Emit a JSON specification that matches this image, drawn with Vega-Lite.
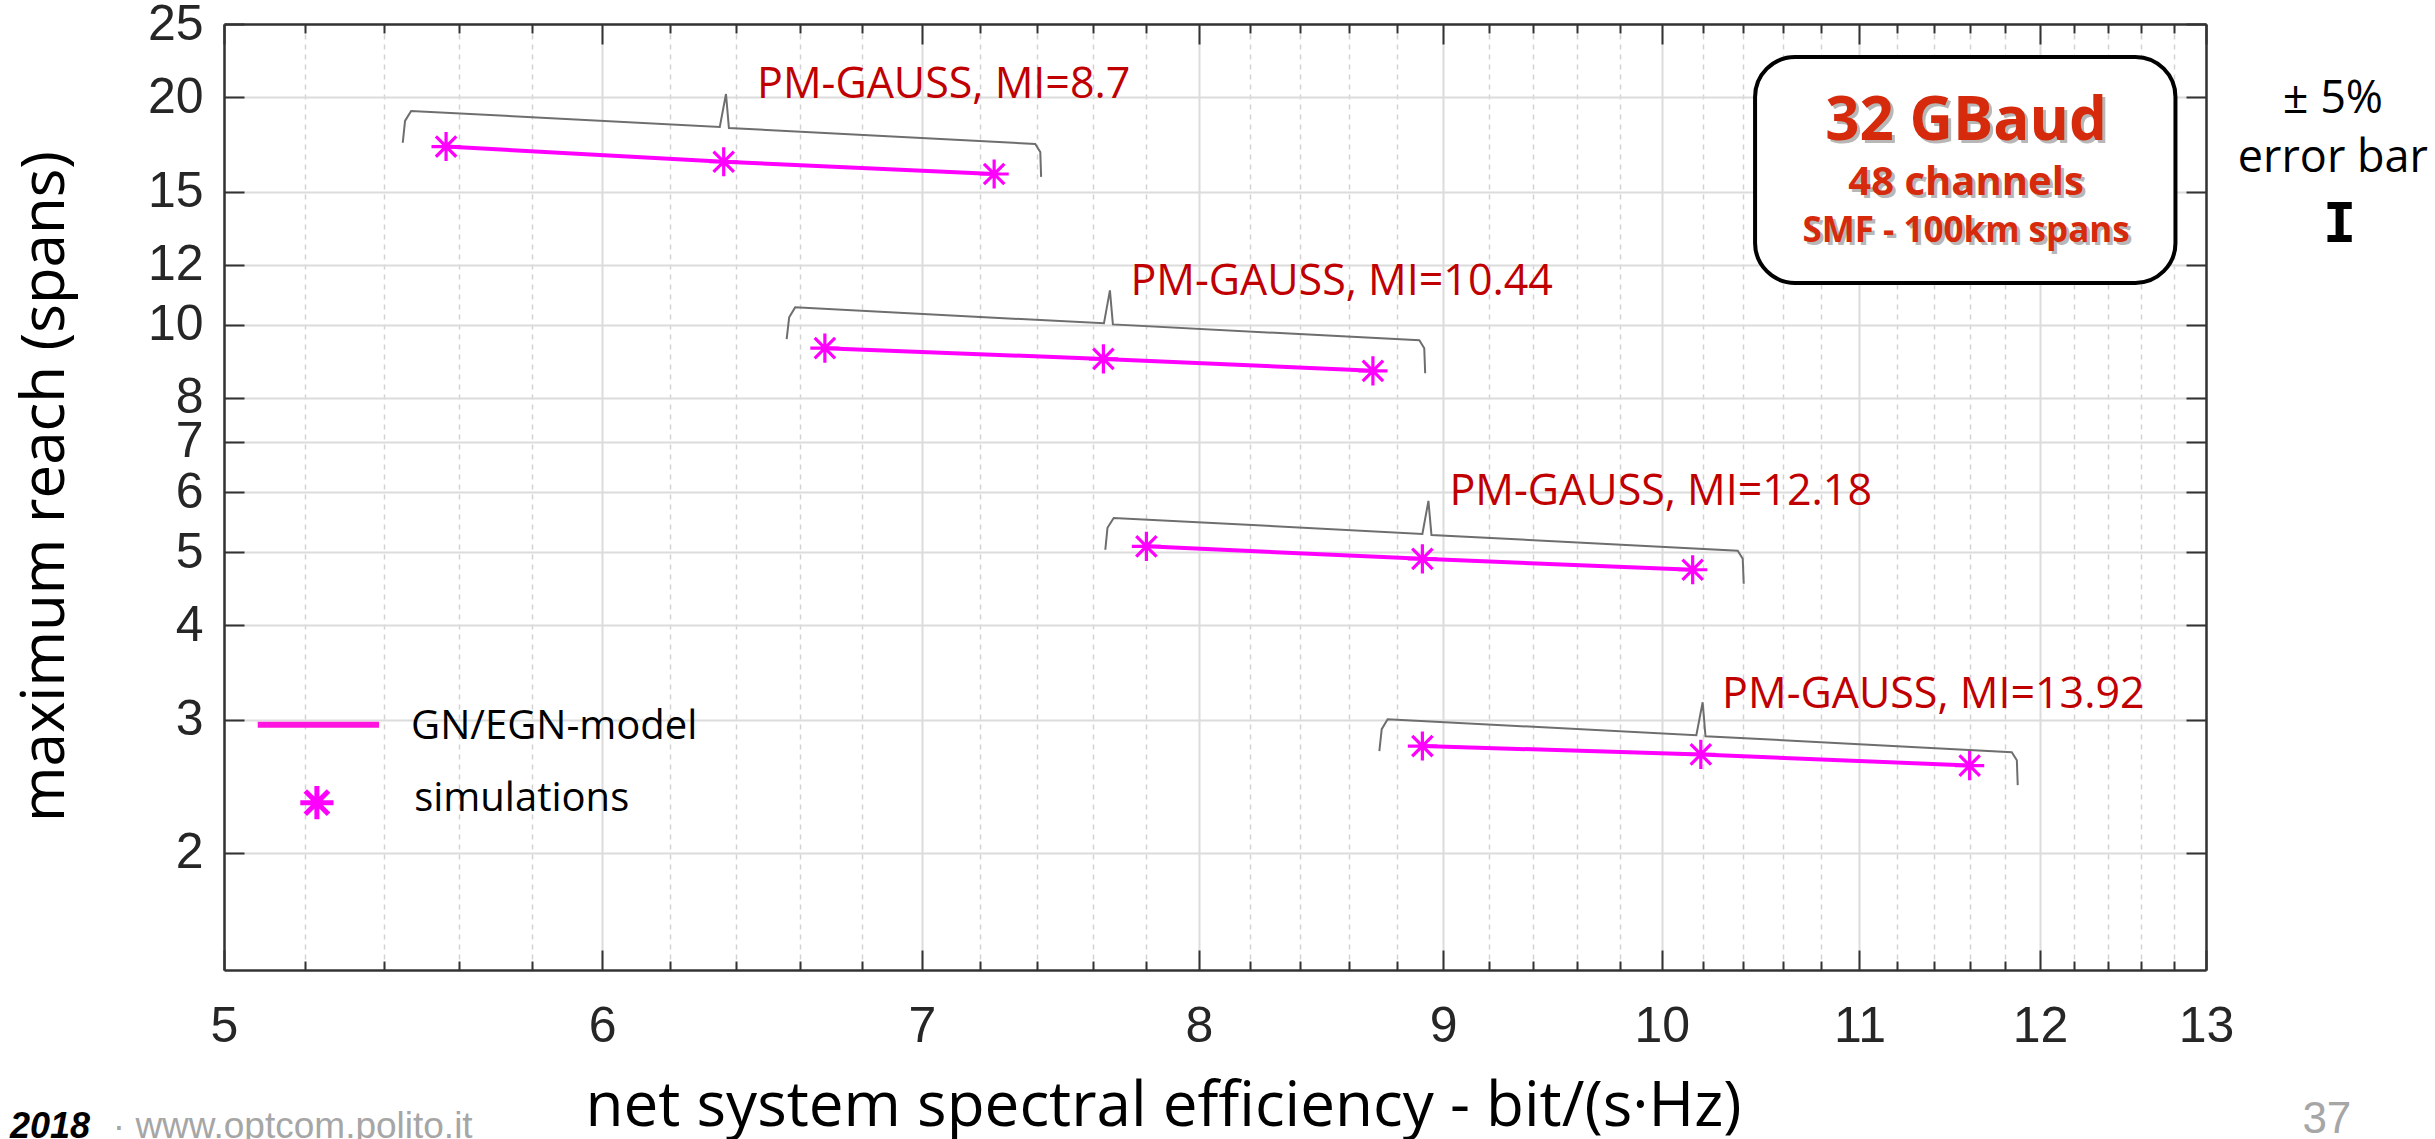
{
  "$schema": "https://vega.github.io/schema/vega-lite/v6.json",
  "width": 1982,
  "height": 946,
  "autosize": {"type": "none"},
  "padding": {"left": 224, "top": 24, "right": 229, "bottom": 169},
  "background": "white",
  "config": {"view": {"stroke": null}},
  "datasets": {
    "pts": [
      {"g": "8.7", "x": 5.565, "y": 17.21}, {"g": "8.7", "x": 6.362, "y": 16.43}, {"g": "8.7", "x": 7.248, "y": 15.83},
      {"g": "10.44", "x": 6.68, "y": 9.31}, {"g": "10.44", "x": 7.64, "y": 9.01}, {"g": "10.44", "x": 8.7, "y": 8.69},
      {"g": "12.18", "x": 7.8, "y": 5.09}, {"g": "12.18", "x": 8.91, "y": 4.9}, {"g": "12.18", "x": 10.15, "y": 4.74},
      {"g": "13.92", "x": 8.91, "y": 2.77}, {"g": "13.92", "x": 10.19, "y": 2.7}, {"g": "13.92", "x": 11.6, "y": 2.61}
    ],
    "brace": [
      {"g": "8.7", "i": 1, "x": 5.45, "y": 17.41}, {"g": "8.7", "i": 2, "x": 5.456, "y": 18.61}, {"g": "8.7", "i": 3, "x": 5.472, "y": 19.18},
      {"g": "8.7", "i": 4, "x": 6.35, "y": 18.27}, {"g": "8.7", "i": 5, "x": 6.369, "y": 20.2}, {"g": "8.7", "i": 6, "x": 6.378, "y": 18.21},
      {"g": "8.7", "i": 7, "x": 7.393, "y": 17.35}, {"g": "8.7", "i": 8, "x": 7.411, "y": 16.93}, {"g": "8.7", "i": 9, "x": 7.414, "y": 15.69},
      {"g": "10.44", "i": 1, "x": 6.558, "y": 9.57}, {"g": "10.44", "i": 2, "x": 6.566, "y": 10.23}, {"g": "10.44", "i": 3, "x": 6.585, "y": 10.543},
      {"g": "10.44", "i": 4, "x": 7.642, "y": 10.043}, {"g": "10.44", "i": 5, "x": 7.664, "y": 11.104}, {"g": "10.44", "i": 6, "x": 7.675, "y": 10.01},
      {"g": "10.44", "i": 7, "x": 8.897, "y": 9.537}, {"g": "10.44", "i": 8, "x": 8.918, "y": 9.306}, {"g": "10.44", "i": 9, "x": 8.922, "y": 8.625},
      {"g": "12.18", "i": 1, "x": 7.647, "y": 5.038}, {"g": "12.18", "i": 2, "x": 7.655, "y": 5.386}, {"g": "12.18", "i": 3, "x": 7.678, "y": 5.551},
      {"g": "12.18", "i": 4, "x": 8.91, "y": 5.287}, {"g": "12.18", "i": 5, "x": 8.936, "y": 5.846}, {"g": "12.18", "i": 6, "x": 8.949, "y": 5.27},
      {"g": "12.18", "i": 7, "x": 10.373, "y": 5.021}, {"g": "12.18", "i": 8, "x": 10.398, "y": 4.9}, {"g": "12.18", "i": 9, "x": 10.403, "y": 4.541},
      {"g": "13.92", "i": 1, "x": 8.727, "y": 2.728}, {"g": "13.92", "i": 2, "x": 8.737, "y": 2.916}, {"g": "13.92", "i": 3, "x": 8.762, "y": 3.006},
      {"g": "13.92", "i": 4, "x": 10.168, "y": 2.863}, {"g": "13.92", "i": 5, "x": 10.199, "y": 3.165}, {"g": "13.92", "i": 6, "x": 10.213, "y": 2.854},
      {"g": "13.92", "i": 7, "x": 11.838, "y": 2.719}, {"g": "13.92", "i": 8, "x": 11.867, "y": 2.653}, {"g": "13.92", "i": 9, "x": 11.872, "y": 2.459}
    ],
    "labels": [
      {"t": "PM-GAUSS, MI=8.7", "x": 6.465, "y": 19.96},
      {"t": "PM-GAUSS, MI=10.44", "x": 7.74, "y": 10.95},
      {"t": "PM-GAUSS, MI=12.18", "x": 9.027, "y": 5.78},
      {"t": "PM-GAUSS, MI=13.92", "x": 10.295, "y": 3.11}
    ],
    "box": [{"x1": 10.46, "x2": 12.81, "y1": 22.61, "y2": 11.36}],
    "boxt": [
      {"k": "a", "t": "32 GBaud", "x": 11.58, "y": 17.56},
      {"k": "b", "t": "48 channels", "x": 11.58, "y": 14.85},
      {"k": "c", "t": "SMF - 100km spans", "x": 11.58, "y": 12.87}
    ],
    "legl": [{"x": 5.082, "y": 2.956}, {"x": 5.388, "y": 2.956}],
    "legp": [{"x": 5.229, "y": 2.331}],
    "legt": [{"t": "GN/EGN-model", "x": 5.472, "y": 2.832}, {"t": "simulations", "x": 5.48, "y": 2.275}],
    "misc": [
      {"k": "pm", "t": "± 5%", "x": 13.82, "y": 19.07},
      {"k": "eb", "t": "error bar", "x": 13.82, "y": 15.93},
      {"k": "I", "t": "I", "x": 13.865, "y": 12.87},
      {"k": "yr", "t": "2018", "x": 4.51, "y": 0.838},
      {"k": "web", "t": "· www.optcom.polito.it", "x": 4.739, "y": 0.838},
      {"k": "pg", "t": "37", "x": 13.78, "y": 0.853}
    ]
  },
  "resolve": {"axis": {"x": "independent", "y": "independent"}},
  "layer": [
    {
      "data": {"name": "brace"},
      "mark": {"type": "line", "color": "#6e6e6e", "strokeWidth": 2},
      "encoding": {
        "x": {"field": "x", "type": "quantitative", "scale": {"type": "log", "domain": [5, 13], "nice": false},
          "axis": {"orient": "bottom", "values": [5, 6, 7, 8, 9, 10, 11, 12, 13], "format": "d", "labelFlush": false, "labelOverlap": false,
            "labelFont": "Liberation Sans", "labelFontSize": 50, "labelColor": "#262626", "labelPadding": 51,
            "tickSize": -20, "tickColor": "#333333", "tickWidth": 2, "domain": true, "domainColor": "#333333", "domainWidth": 2.5,
            "grid": true, "gridColor": "#dcdcdc", "gridWidth": 2,
            "title": "net system spectral efficiency - bit/(s·Hz)", "titleFont": "Open Sans", "titleFontSize": 62, "titleFontWeight": "normal",
            "titleColor": "#000000", "titleAlign": "left", "titleBaseline": "alphabetic", "titleX": 361, "titleY": 155}},
        "y": {"field": "y", "type": "quantitative", "scale": {"type": "log", "domain": [1.4, 25], "nice": false},
          "axis": {"orient": "left", "values": [2, 3, 4, 5, 6, 7, 8, 10, 12, 15, 20, 25], "format": "d", "labelFlush": false, "labelOverlap": false,
            "labelFont": "Liberation Sans", "labelFontSize": 50, "labelColor": "#262626", "labelPadding": 41,
            "tickSize": -20, "tickColor": "#333333", "tickWidth": 2, "domain": true, "domainColor": "#333333", "domainWidth": 2.5,
            "grid": true, "gridColor": "#dcdcdc", "gridWidth": 2,
            "title": "maximum reach (spans)", "titleFont": "Open Sans", "titleFontSize": 60, "titleFontWeight": "normal",
            "titleColor": "#000000", "titleAngle": 270, "titleAlign": "center", "titleBaseline": "alphabetic", "titleX": -161, "titleY": 462}},
        "detail": {"field": "g"},
        "order": {"field": "i", "type": "quantitative"}
      }
    },
    {
      "data": {"name": "pts"},
      "mark": {"type": "line", "color": "#ff00ff", "strokeWidth": 4},
      "encoding": {
        "x": {"field": "x", "type": "quantitative", "scale": {"type": "log", "domain": [5, 13], "nice": false},
          "axis": {"orient": "top", "values": [5, 6, 7, 8, 9, 10, 11, 12, 13], "labels": false, "tickSize": -20, "tickColor": "#333333", "tickWidth": 2,
            "domain": true, "domainColor": "#333333", "domainWidth": 2.5, "grid": false, "title": null}},
        "y": {"field": "y", "type": "quantitative", "scale": {"type": "log", "domain": [1.4, 25], "nice": false},
          "axis": {"orient": "right", "values": [2, 3, 4, 5, 6, 7, 8, 10, 12, 15, 20, 25], "labels": false, "tickSize": -20, "tickColor": "#333333", "tickWidth": 2,
            "domain": true, "domainColor": "#333333", "domainWidth": 2.5, "grid": false, "title": null}},
        "detail": {"field": "g"}
      }
    },
    {
      "data": {"name": "pts"},
      "mark": {"type": "point", "shape": "M0,-1L0,1M-1,0L1,0M-0.7,-0.7L0.7,0.7M-0.7,0.7L0.7,-0.7", "size": 850, "filled": false, "stroke": "#ff00ff", "strokeWidth": 3.2, "opacity": 1},
      "encoding": {
        "x": {"field": "x", "type": "quantitative", "scale": {"type": "log", "domain": [5, 13], "nice": false},
          "axis": {"orient": "bottom", "values": [5.2, 5.4, 5.6, 5.8, 6.2, 6.4, 6.6, 6.8, 7.2, 7.4, 7.6, 7.8, 8.2, 8.4, 8.6, 8.8, 9.2, 9.4, 9.6, 9.8, 10.2, 10.4, 10.6, 10.8, 11.2, 11.4, 11.6, 11.8, 12.2, 12.4, 12.6, 12.8],
            "labels": false, "tickSize": -9, "tickColor": "#333333", "tickWidth": 2, "domain": false,
            "grid": true, "gridColor": "#d2d2d2", "gridWidth": 1.5, "gridDash": [5, 5], "title": null}},
        "y": {"field": "y", "type": "quantitative", "scale": {"type": "log", "domain": [1.4, 25], "nice": false}, "axis": null}
      }
    },
    {
      "data": {"name": "labels"},
      "mark": {"type": "text", "align": "left", "baseline": "alphabetic", "font": "Open Sans", "fontSize": 43, "color": "#c00000"},
      "encoding": {
        "x": {"field": "x", "type": "quantitative", "scale": {"type": "log", "domain": [5, 13], "nice": false},
          "axis": {"orient": "top", "values": [5.2, 5.4, 5.6, 5.8, 6.2, 6.4, 6.6, 6.8, 7.2, 7.4, 7.6, 7.8, 8.2, 8.4, 8.6, 8.8, 9.2, 9.4, 9.6, 9.8, 10.2, 10.4, 10.6, 10.8, 11.2, 11.4, 11.6, 11.8, 12.2, 12.4, 12.6, 12.8],
            "labels": false, "tickSize": -9, "tickColor": "#333333", "tickWidth": 2, "domain": false, "grid": false, "title": null}},
        "y": {"field": "y", "type": "quantitative", "scale": {"type": "log", "domain": [1.4, 25], "nice": false}, "axis": null},
        "text": {"field": "t"}
      }
    },
    {
      "data": {"name": "box"},
      "mark": {"type": "rect", "fill": "white", "stroke": "black", "strokeWidth": 4, "cornerRadius": 40},
      "encoding": {
        "x": {"field": "x1", "type": "quantitative", "scale": {"type": "log", "domain": [5, 13], "nice": false}, "axis": null},
        "x2": {"field": "x2"},
        "y": {"field": "y1", "type": "quantitative", "scale": {"type": "log", "domain": [1.4, 25], "nice": false}, "axis": null},
        "y2": {"field": "y2"}
      }
    },
    {
      "data": {"name": "boxt"},
      "transform": [{"filter": "datum.k == 'a'"}],
      "layer": [
        {"mark": {"type": "text", "align": "center", "baseline": "alphabetic", "font": "Open Sans", "fontWeight": "bold", "fontSize": 60, "color": "#9a9a9a", "opacity": 0.7, "dx": 3, "dy": 3}},
        {"mark": {"type": "text", "align": "center", "baseline": "alphabetic", "font": "Open Sans", "fontWeight": "bold", "fontSize": 60, "color": "#d62a0c"}}
      ],
      "encoding": {
        "x": {"field": "x", "type": "quantitative", "scale": {"type": "log", "domain": [5, 13], "nice": false}, "axis": null},
        "y": {"field": "y", "type": "quantitative", "scale": {"type": "log", "domain": [1.4, 25], "nice": false}, "axis": null},
        "text": {"field": "t"}
      }
    },
    {
      "data": {"name": "boxt"},
      "transform": [{"filter": "datum.k == 'b'"}],
      "layer": [
        {"mark": {"type": "text", "align": "center", "baseline": "alphabetic", "font": "Open Sans", "fontWeight": "bold", "fontSize": 40, "color": "#9a9a9a", "opacity": 0.7, "dx": 3, "dy": 3}},
        {"mark": {"type": "text", "align": "center", "baseline": "alphabetic", "font": "Open Sans", "fontWeight": "bold", "fontSize": 40, "color": "#d62a0c"}}
      ],
      "encoding": {
        "x": {"field": "x", "type": "quantitative", "scale": {"type": "log", "domain": [5, 13], "nice": false}, "axis": null},
        "y": {"field": "y", "type": "quantitative", "scale": {"type": "log", "domain": [1.4, 25], "nice": false}, "axis": null},
        "text": {"field": "t"}
      }
    },
    {
      "data": {"name": "boxt"},
      "transform": [{"filter": "datum.k == 'c'"}],
      "layer": [
        {"mark": {"type": "text", "align": "center", "baseline": "alphabetic", "font": "Open Sans", "fontWeight": "bold", "fontSize": 35, "color": "#9a9a9a", "opacity": 0.7, "dx": 3, "dy": 3}},
        {"mark": {"type": "text", "align": "center", "baseline": "alphabetic", "font": "Open Sans", "fontWeight": "bold", "fontSize": 35, "color": "#d62a0c"}}
      ],
      "encoding": {
        "x": {"field": "x", "type": "quantitative", "scale": {"type": "log", "domain": [5, 13], "nice": false}, "axis": null},
        "y": {"field": "y", "type": "quantitative", "scale": {"type": "log", "domain": [1.4, 25], "nice": false}, "axis": null},
        "text": {"field": "t"}
      }
    },
    {
      "data": {"name": "legl"},
      "mark": {"type": "line", "color": "#ff14e0", "strokeWidth": 6},
      "encoding": {
        "x": {"field": "x", "type": "quantitative", "scale": {"type": "log", "domain": [5, 13], "nice": false}, "axis": null},
        "y": {"field": "y", "type": "quantitative", "scale": {"type": "log", "domain": [1.4, 25], "nice": false}, "axis": null}
      }
    },
    {
      "data": {"name": "legp"},
      "mark": {"type": "point", "shape": "M0,-1L0,1M-1,0L1,0M-0.7,-0.7L0.7,0.7M-0.7,0.7L0.7,-0.7", "size": 1100, "filled": false, "stroke": "#ff00ff", "strokeWidth": 5, "opacity": 1},
      "encoding": {
        "x": {"field": "x", "type": "quantitative", "scale": {"type": "log", "domain": [5, 13], "nice": false}, "axis": null},
        "y": {"field": "y", "type": "quantitative", "scale": {"type": "log", "domain": [1.4, 25], "nice": false}, "axis": null}
      }
    },
    {
      "data": {"name": "legt"},
      "mark": {"type": "text", "align": "left", "baseline": "alphabetic", "font": "Open Sans", "fontSize": 40, "color": "#000000"},
      "encoding": {
        "x": {"field": "x", "type": "quantitative", "scale": {"type": "log", "domain": [5, 13], "nice": false}, "axis": null},
        "y": {"field": "y", "type": "quantitative", "scale": {"type": "log", "domain": [1.4, 25], "nice": false}, "axis": null},
        "text": {"field": "t"}
      }
    },
    {
      "data": {"name": "misc"},
      "transform": [{"filter": "datum.k == 'pm' || datum.k == 'eb'"}],
      "mark": {"type": "text", "align": "center", "baseline": "alphabetic", "font": "Open Sans", "fontSize": 45, "color": "#000000"},
      "encoding": {
        "x": {"field": "x", "type": "quantitative", "scale": {"type": "log", "domain": [5, 13], "nice": false}, "axis": null},
        "y": {"field": "y", "type": "quantitative", "scale": {"type": "log", "domain": [1.4, 25], "nice": false}, "axis": null},
        "text": {"field": "t"}
      }
    },
    {
      "data": {"name": "misc"},
      "transform": [{"filter": "datum.k == 'I'"}],
      "mark": {"type": "text", "align": "center", "baseline": "alphabetic", "font": "DejaVu Sans Mono", "fontWeight": "bold", "fontSize": 56, "color": "#000000"},
      "encoding": {
        "x": {"field": "x", "type": "quantitative", "scale": {"type": "log", "domain": [5, 13], "nice": false}, "axis": null},
        "y": {"field": "y", "type": "quantitative", "scale": {"type": "log", "domain": [1.4, 25], "nice": false}, "axis": null},
        "text": {"field": "t"}
      }
    },
    {
      "data": {"name": "misc"},
      "transform": [{"filter": "datum.k == 'yr'"}],
      "mark": {"type": "text", "align": "left", "baseline": "alphabetic", "font": "Liberation Sans", "fontWeight": "bold", "fontStyle": "italic", "fontSize": 36, "color": "#000000"},
      "encoding": {
        "x": {"field": "x", "type": "quantitative", "scale": {"type": "log", "domain": [5, 13], "nice": false}, "axis": null},
        "y": {"field": "y", "type": "quantitative", "scale": {"type": "log", "domain": [1.4, 25], "nice": false}, "axis": null},
        "text": {"field": "t"}
      }
    },
    {
      "data": {"name": "misc"},
      "transform": [{"filter": "datum.k == 'web'"}],
      "mark": {"type": "text", "align": "left", "baseline": "alphabetic", "font": "Liberation Sans", "fontSize": 37, "color": "#a6a6a6"},
      "encoding": {
        "x": {"field": "x", "type": "quantitative", "scale": {"type": "log", "domain": [5, 13], "nice": false}, "axis": null},
        "y": {"field": "y", "type": "quantitative", "scale": {"type": "log", "domain": [1.4, 25], "nice": false}, "axis": null},
        "text": {"field": "t"}
      }
    },
    {
      "data": {"name": "misc"},
      "transform": [{"filter": "datum.k == 'pg'"}],
      "mark": {"type": "text", "align": "center", "baseline": "alphabetic", "font": "Liberation Sans", "fontSize": 44, "color": "#a6a6a6"},
      "encoding": {
        "x": {"field": "x", "type": "quantitative", "scale": {"type": "log", "domain": [5, 13], "nice": false}, "axis": null},
        "y": {"field": "y", "type": "quantitative", "scale": {"type": "log", "domain": [1.4, 25], "nice": false}, "axis": null},
        "text": {"field": "t"}
      }
    }
  ]
}
